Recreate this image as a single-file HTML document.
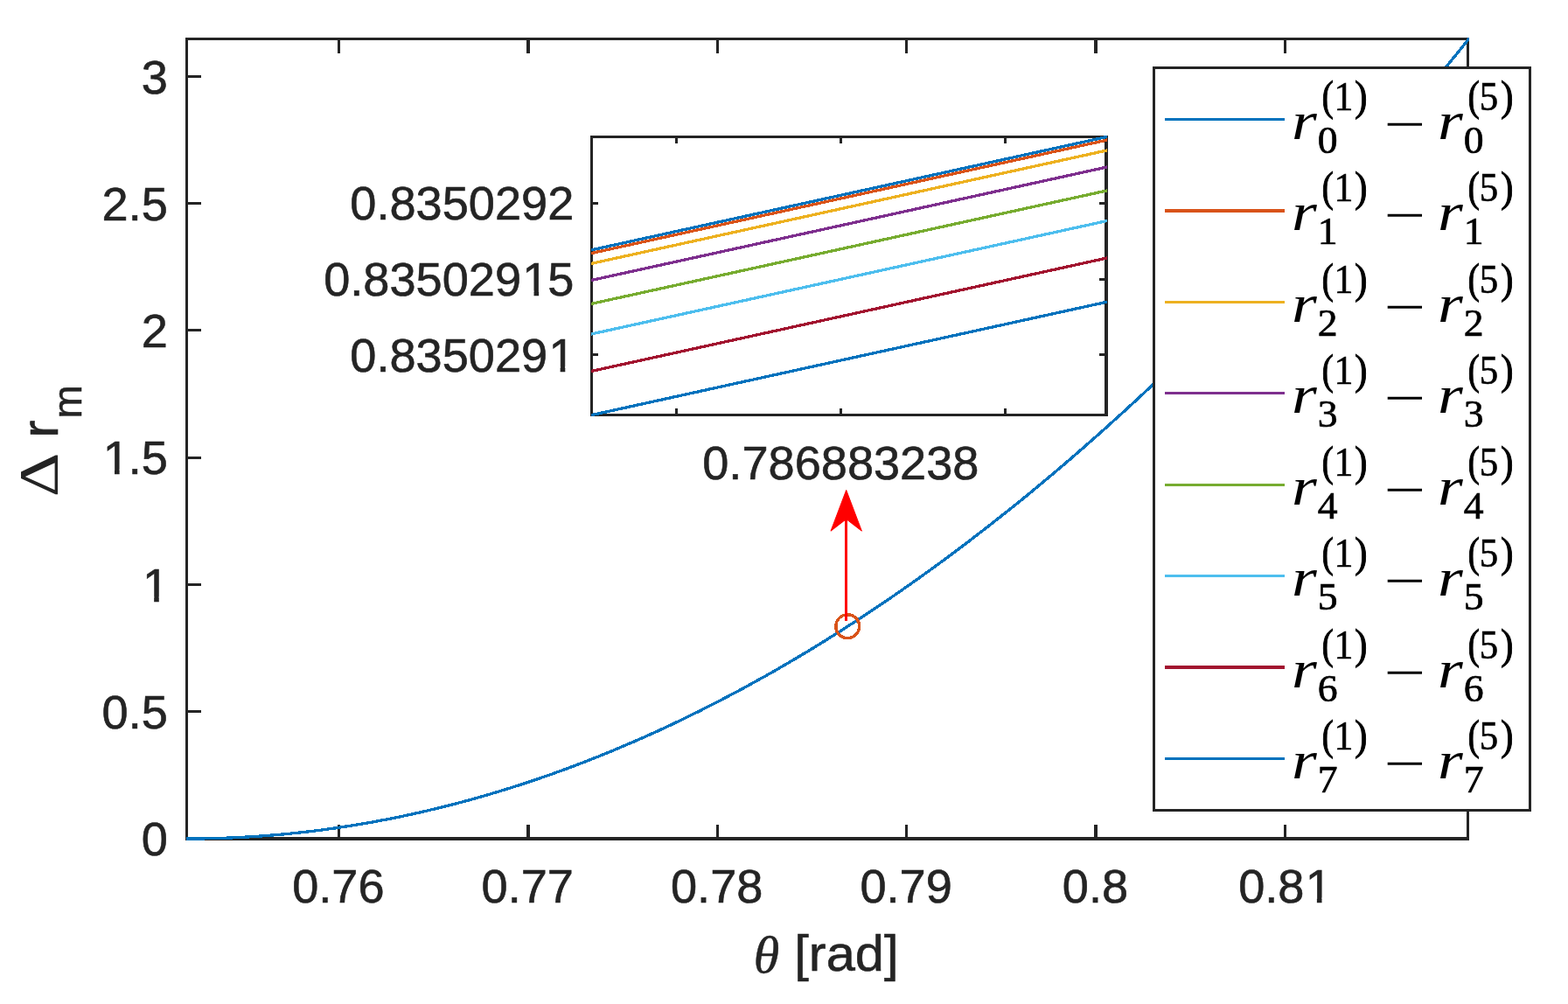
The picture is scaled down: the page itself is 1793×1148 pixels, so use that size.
<!DOCTYPE html>
<html lang="en">
<head>
<meta charset="utf-8">
<title>Delta r_m versus theta</title>
<style>
html,body{margin:0;padding:0;background:#ffffff;}
body{width:1793px;height:1148px;overflow:hidden;}
svg{display:block;}
</style>
</head>
<body>
<svg width="1793" height="1148" viewBox="0 0 1793 1148" role="img" aria-label="Plot of Delta r_m versus theta [rad] with zoomed inset and legend">
<rect x="0" y="0" width="1793" height="1148" fill="#ffffff"/>
<g shape-rendering="crispEdges">
<rect x="212" y="43" width="3" height="918" fill="#242424"/>
<rect x="1677" y="43" width="3" height="918" fill="#242424"/>
<rect x="212" y="43" width="1468" height="3" fill="#242424"/>
<rect x="212" y="957" width="1468" height="4" fill="#242424"/>
<rect x="386" y="943" width="3" height="14" fill="#242424"/>
<rect x="386" y="46" width="3" height="15" fill="#242424"/>
<rect x="602" y="943" width="4" height="14" fill="#242424"/>
<rect x="602" y="46" width="4" height="15" fill="#242424"/>
<rect x="819" y="943" width="3" height="14" fill="#242424"/>
<rect x="819" y="46" width="3" height="15" fill="#242424"/>
<rect x="1035" y="943" width="3" height="14" fill="#242424"/>
<rect x="1035" y="46" width="3" height="15" fill="#242424"/>
<rect x="1251" y="943" width="4" height="14" fill="#242424"/>
<rect x="1251" y="46" width="4" height="15" fill="#242424"/>
<rect x="1468" y="943" width="3" height="14" fill="#242424"/>
<rect x="1468" y="46" width="3" height="15" fill="#242424"/>
<rect x="215" y="812" width="15" height="3" fill="#242424"/>
<rect x="1662" y="812" width="15" height="3" fill="#242424"/>
<rect x="215" y="667" width="15" height="3" fill="#242424"/>
<rect x="1662" y="667" width="15" height="3" fill="#242424"/>
<rect x="215" y="522" width="15" height="3" fill="#242424"/>
<rect x="1662" y="522" width="15" height="3" fill="#242424"/>
<rect x="215" y="376" width="15" height="3" fill="#242424"/>
<rect x="1662" y="376" width="15" height="3" fill="#242424"/>
<rect x="215" y="231" width="15" height="3" fill="#242424"/>
<rect x="1662" y="231" width="15" height="3" fill="#242424"/>
<rect x="215" y="86" width="15" height="3" fill="#242424"/>
<rect x="1662" y="86" width="15" height="3" fill="#242424"/>
</g>
<clipPath id="mc"><rect x="213" y="43" width="1467" height="918"/></clipPath>
<polyline clip-path="url(#mc)" points="208.5,959.0 214.5,959.0 220.6,959.0 226.7,958.9 232.8,958.9 238.9,958.7 245.0,958.6 251.1,958.4 257.2,958.2 263.3,958.0 269.4,957.7 275.5,957.4 281.6,957.1 287.8,956.7 293.9,956.3 300.0,955.9 306.1,955.4 312.2,954.9 318.3,954.4 324.4,953.9 330.5,953.3 336.6,952.6 342.7,952.0 348.8,951.3 354.9,950.6 361.0,949.9 367.1,949.1 373.2,948.3 379.3,947.4 385.4,946.6 391.5,945.6 397.6,944.7 403.7,943.7 409.8,942.7 415.9,941.7 422.0,940.6 428.1,939.6 434.2,938.4 440.4,937.3 446.5,936.1 452.6,934.9 458.7,933.6 464.8,932.3 470.9,931.0 477.0,929.6 483.1,928.3 489.2,926.8 495.3,925.4 501.4,923.9 507.5,922.4 513.6,920.9 519.7,919.3 525.8,917.7 531.9,916.1 538.0,914.4 544.1,912.7 550.2,911.0 556.3,909.2 562.4,907.4 568.5,905.6 574.6,903.7 580.8,901.8 586.9,899.9 593.0,898.0 599.1,896.0 605.2,894.0 611.3,891.9 617.4,889.8 623.5,887.7 629.6,885.6 635.7,883.4 641.8,881.2 647.9,879.0 654.0,876.7 660.1,874.4 666.2,872.1 672.3,869.7 678.4,867.3 684.5,864.9 690.6,862.4 696.7,859.9 702.8,857.4 708.9,854.8 715.0,852.2 721.1,849.6 727.2,847.0 733.4,844.3 739.5,841.6 745.6,838.8 751.7,836.1 757.8,833.2 763.9,830.4 770.0,827.5 776.1,824.6 782.2,821.7 788.3,818.7 794.4,815.7 800.5,812.7 806.6,809.6 812.7,806.5 818.8,803.4 824.9,800.2 831.0,797.0 837.1,793.8 843.2,790.6 849.3,787.3 855.4,784.0 861.5,780.6 867.6,777.2 873.8,773.8 879.9,770.4 886.0,766.9 892.1,763.4 898.2,759.8 904.3,756.3 910.4,752.7 916.5,749.0 922.6,745.4 928.7,741.7 934.8,737.9 940.9,734.2 947.0,730.4 953.1,726.5 959.2,722.7 965.3,718.8 971.4,714.9 977.5,710.9 983.6,706.9 989.7,702.9 995.8,698.9 1001.9,694.8 1008.0,690.7 1014.1,686.5 1020.2,682.4 1026.4,678.2 1032.5,673.9 1038.6,669.6 1044.7,665.3 1050.8,661.0 1056.9,656.6 1063.0,652.2 1069.1,647.8 1075.2,643.4 1081.3,638.9 1087.4,634.3 1093.5,629.8 1099.6,625.2 1105.7,620.6 1111.8,615.9 1117.9,611.2 1124.0,606.5 1130.1,601.8 1136.2,597.0 1142.3,592.2 1148.4,587.3 1154.5,582.5 1160.6,577.6 1166.8,572.6 1172.9,567.7 1179.0,562.7 1185.1,557.6 1191.2,552.6 1197.3,547.5 1203.4,542.3 1209.5,537.2 1215.6,532.0 1221.7,526.8 1227.8,521.5 1233.9,516.2 1240.0,510.9 1246.1,505.5 1252.2,500.2 1258.3,494.7 1264.4,489.3 1270.5,483.8 1276.6,478.3 1282.7,472.8 1288.8,467.2 1294.9,461.6 1301.0,456.0 1307.1,450.3 1313.2,444.6 1319.4,438.9 1325.5,433.1 1331.6,427.3 1337.7,421.5 1343.8,415.6 1349.9,409.7 1356.0,403.8 1362.1,397.9 1368.2,391.9 1374.3,385.8 1380.4,379.8 1386.5,373.7 1392.6,367.6 1398.7,361.5 1404.8,355.3 1410.9,349.1 1417.0,342.8 1423.1,336.6 1429.2,330.3 1435.3,323.9 1441.4,317.6 1447.5,311.2 1453.6,304.7 1459.8,298.3 1465.9,291.8 1472.0,285.3 1478.1,278.7 1484.2,272.1 1490.3,265.5 1496.4,258.8 1502.5,252.2 1508.6,245.4 1514.7,238.7 1520.8,231.9 1526.9,225.1 1533.0,218.3 1539.1,211.4 1545.2,204.5 1551.3,197.5 1557.4,190.6 1563.5,183.6 1569.6,176.5 1575.7,169.5 1581.8,162.4 1587.9,155.2 1594.0,148.1 1600.1,140.9 1606.2,133.7 1612.4,126.4 1618.5,119.1 1624.6,111.8 1630.7,104.5 1636.8,97.1 1642.9,89.7 1649.0,82.2 1655.1,74.7 1661.2,67.2 1667.3,59.7 1673.4,52.1 1679.5,44.5 1685.6,36.9" fill="none" stroke="#0072BD" stroke-width="3.3" stroke-linejoin="round" shape-rendering="crispEdges"/>
<g font-family="'Liberation Sans', Arial, Helvetica, sans-serif" font-size="54.17" fill="#242424" stroke="#242424" stroke-width="0.6">
<text x="334.19" y="1032.00">0.76</text>
<text x="550.59" y="1032.00">0.77</text>
<text x="766.99" y="1032.00">0.78</text>
<text x="983.39" y="1032.00">0.79</text>
<text x="1214.85" y="1032.00">0.8</text>
<clipPath id="k1"><path clip-rule="evenodd" d="M1396.2 972.0H1541.6V1052.0H1396.2ZM1495.19 1026.40H1505.89V1033.50H1495.19ZM1511.49 1026.40H1521.69V1033.50H1511.49Z"/></clipPath>
<text x="1416.19" y="1032.00" clip-path="url(#k1)">0.8<tspan dx="1.2">1</tspan></text>
<text x="161.77" y="978.00">0</text>
<text x="116.60" y="832.80">0.5</text>
<clipPath id="k2"><path clip-rule="evenodd" d="M141.8 627.6H211.9V707.6H141.8ZM165.47 682.00H176.17V689.10H165.47ZM181.77 682.00H191.97V689.10H181.77Z"/></clipPath>
<text x="161.77" y="687.60" clip-path="url(#k2)"><tspan dx="1.2">1</tspan></text>
<clipPath id="k3"><path clip-rule="evenodd" d="M96.6 482.4H211.9V562.4H96.6ZM120.30 536.80H131.00V543.90H120.30ZM136.60 536.80H146.80V543.90H136.60Z"/></clipPath>
<text x="116.60" y="542.40" clip-path="url(#k3)"><tspan dx="1.2">1</tspan><tspan dx="-1.2">.5</tspan></text>
<text x="161.77" y="397.20">2</text>
<text x="116.60" y="252.00">2.5</text>
<text x="161.77" y="106.80">3</text>
</g>
<g fill="#242424" stroke="#242424" stroke-width="0.6">
<text x="861.7" y="1111.8" font-family="'Liberation Serif', 'Times New Roman', Times, serif" font-style="italic" font-size="60" stroke-width="0.5">θ</text>
<text transform="translate(908.3,1110.0) scale(1,0.965)" font-family="'Liberation Sans', Arial, Helvetica, sans-serif" font-size="59.6">[rad]</text>
<g transform="translate(65.9,566.0) rotate(-90)">
<text transform="matrix(0.7877 0 0 0.6394 -2.15 0.30)" font-family="'Liberation Serif', 'Times New Roman', Times, serif" font-size="100" stroke="none">Δ</text>
<text x="65.6" y="0" font-family="'Liberation Sans', Arial, Helvetica, sans-serif" font-size="59.6">r</text>
<text x="87.6" y="27.0" font-family="'Liberation Sans', Arial, Helvetica, sans-serif" font-size="46">m</text>
</g>
</g>
<circle cx="969.2" cy="716.2" r="13.4" fill="none" stroke="#D95319" stroke-width="3.4" shape-rendering="crispEdges"/>
<rect x="966" y="590" width="3" height="120" fill="#FF0000" shape-rendering="crispEdges"/>
<path d="M967.7 560.4 L985.4 607.2 L967.7 593.6 L950.0 607.2 Z" fill="#FF0000" stroke="#FF0000" stroke-width="1" stroke-linejoin="round"/>
<rect x="675" y="155" width="592" height="321" fill="#ffffff"/>
<g shape-rendering="crispEdges">
<rect x="675" y="155" width="3" height="321" fill="#242424"/>
<rect x="1263" y="155" width="4" height="321" fill="#242424"/>
<rect x="675" y="155" width="592" height="3" fill="#242424"/>
<rect x="675" y="473" width="592" height="3" fill="#242424"/>
<rect x="772" y="467" width="3" height="6" fill="#242424"/>
<rect x="772" y="158" width="3" height="6" fill="#242424"/>
<rect x="960" y="467" width="3" height="6" fill="#242424"/>
<rect x="960" y="158" width="3" height="6" fill="#242424"/>
<rect x="1148" y="467" width="3" height="6" fill="#242424"/>
<rect x="1148" y="158" width="3" height="6" fill="#242424"/>
<rect x="678" y="231" width="6" height="3" fill="#242424"/>
<rect x="1257" y="231" width="6" height="3" fill="#242424"/>
<rect x="678" y="318" width="6" height="3" fill="#242424"/>
<rect x="1257" y="318" width="6" height="3" fill="#242424"/>
<rect x="678" y="404" width="6" height="3" fill="#242424"/>
<rect x="1257" y="404" width="6" height="3" fill="#242424"/>
</g>
<clipPath id="ic"><rect x="676" y="155" width="590" height="321"/></clipPath>
<g clip-path="url(#ic)" stroke-width="3.3" fill="none" shape-rendering="crispEdges">
<line x1="673.5" y1="286.46" x2="1268.0" y2="155.94" stroke="#0072BD"/>
<line x1="673.5" y1="290.16" x2="1268.0" y2="159.64" stroke="#D95319"/>
<line x1="673.5" y1="301.96" x2="1268.0" y2="171.44" stroke="#EDB120"/>
<line x1="673.5" y1="321.06" x2="1268.0" y2="190.54" stroke="#7E2F8E"/>
<line x1="673.5" y1="347.96" x2="1268.0" y2="217.44" stroke="#77AC30"/>
<line x1="673.5" y1="382.56" x2="1268.0" y2="252.04" stroke="#4DBEEE"/>
<line x1="673.5" y1="425.06" x2="1268.0" y2="294.54" stroke="#A2142F"/>
<line x1="673.5" y1="475.26" x2="1268.0" y2="344.74" stroke="#0072BD"/>
</g>
<g font-family="'Liberation Sans', Arial, Helvetica, sans-serif" font-size="54.17" fill="#242424" stroke="#242424" stroke-width="0.6">
<text x="400.34" y="250.70">0.8350292</text>
<clipPath id="k4"><path clip-rule="evenodd" d="M350.2 278.0H676.4V358.0H350.2ZM599.85 332.40H610.55V339.50H599.85ZM616.15 332.40H626.35V339.50H616.15Z"/></clipPath>
<text x="370.21" y="338.00" clip-path="url(#k4)">0.835029<tspan dx="1.2">1</tspan><tspan dx="-1.2">5</tspan></text>
<clipPath id="k5"><path clip-rule="evenodd" d="M380.3 364.6H676.4V444.6H380.3ZM629.97 419.00H640.67V426.10H629.97ZM646.27 419.00H656.47V426.10H646.27Z"/></clipPath>
<text x="400.34" y="424.60" clip-path="url(#k5)">0.835029<tspan dx="1.2">1</tspan></text>
<text x="803.24" y="547.60">0.786883238</text>
</g>
<rect x="1318" y="76" width="433" height="852" fill="#242424" shape-rendering="crispEdges"/>
<rect x="1321" y="79" width="427" height="846" fill="#ffffff" shape-rendering="crispEdges"/>
<g font-family="'Liberation Serif', 'Times New Roman', Times, serif" fill="#000000">
<rect x="1332" y="135" width="137" height="3" fill="#0072BD" shape-rendering="crispEdges"/>
<g>
<text transform="matrix(0.7401 0 0 0.6154 1477.05 158.80)" font-size="100" font-style="italic">r</text>
<text transform="matrix(0.4568 0 0 0.4478 1506.63 175.00)" font-size="100" stroke="#000" stroke-width="1.5">0</text>
<text transform="matrix(0.4037 0 0 0.4793 1511.54 126.03)" font-size="100" stroke="#000" stroke-width="2.0">(</text>
<text transform="matrix(0.4381 0 0 0.4622 1525.40 125.65)" font-size="100" stroke="#000" stroke-width="1.5">1</text>
<text transform="matrix(0.4379 0 0 0.4793 1549.01 126.03)" font-size="100" stroke="#000" stroke-width="2.0">)</text>
<text transform="matrix(0.8452 0 0 0.6000 1582.57 162.05)" font-size="100">−</text>
<text transform="matrix(0.7401 0 0 0.6154 1644.05 158.80)" font-size="100" font-style="italic">r</text>
<text transform="matrix(0.4568 0 0 0.4478 1673.63 175.00)" font-size="100" stroke="#000" stroke-width="1.5">0</text>
<text transform="matrix(0.4037 0 0 0.4793 1678.54 126.03)" font-size="100" stroke="#000" stroke-width="2.0">(</text>
<text transform="matrix(0.4274 0 0 0.4676 1691.76 126.08)" font-size="100" stroke="#000" stroke-width="1.5">5</text>
<text transform="matrix(0.4379 0 0 0.4793 1716.01 126.03)" font-size="100" stroke="#000" stroke-width="2.0">)</text>
</g>
<rect x="1332" y="239" width="137" height="4" fill="#D95319" shape-rendering="crispEdges"/>
<g>
<text transform="matrix(0.7401 0 0 0.6154 1477.05 262.80)" font-size="100" font-style="italic">r</text>
<text transform="matrix(0.4568 0 0 0.4478 1506.63 279.00)" font-size="100" stroke="#000" stroke-width="1.5">1</text>
<text transform="matrix(0.4037 0 0 0.4793 1511.54 230.03)" font-size="100" stroke="#000" stroke-width="2.0">(</text>
<text transform="matrix(0.4381 0 0 0.4622 1525.40 229.65)" font-size="100" stroke="#000" stroke-width="1.5">1</text>
<text transform="matrix(0.4379 0 0 0.4793 1549.01 230.03)" font-size="100" stroke="#000" stroke-width="2.0">)</text>
<text transform="matrix(0.8452 0 0 0.6000 1582.57 266.05)" font-size="100">−</text>
<text transform="matrix(0.7401 0 0 0.6154 1644.05 262.80)" font-size="100" font-style="italic">r</text>
<text transform="matrix(0.4568 0 0 0.4478 1673.63 279.00)" font-size="100" stroke="#000" stroke-width="1.5">1</text>
<text transform="matrix(0.4037 0 0 0.4793 1678.54 230.03)" font-size="100" stroke="#000" stroke-width="2.0">(</text>
<text transform="matrix(0.4274 0 0 0.4676 1691.76 230.08)" font-size="100" stroke="#000" stroke-width="1.5">5</text>
<text transform="matrix(0.4379 0 0 0.4793 1716.01 230.03)" font-size="100" stroke="#000" stroke-width="2.0">)</text>
</g>
<rect x="1332" y="344" width="137" height="3" fill="#EDB120" shape-rendering="crispEdges"/>
<g>
<text transform="matrix(0.7401 0 0 0.6154 1477.05 367.80)" font-size="100" font-style="italic">r</text>
<text transform="matrix(0.4568 0 0 0.4478 1506.63 384.00)" font-size="100" stroke="#000" stroke-width="1.5">2</text>
<text transform="matrix(0.4037 0 0 0.4793 1511.54 335.03)" font-size="100" stroke="#000" stroke-width="2.0">(</text>
<text transform="matrix(0.4381 0 0 0.4622 1525.40 334.65)" font-size="100" stroke="#000" stroke-width="1.5">1</text>
<text transform="matrix(0.4379 0 0 0.4793 1549.01 335.03)" font-size="100" stroke="#000" stroke-width="2.0">)</text>
<text transform="matrix(0.8452 0 0 0.6000 1582.57 371.05)" font-size="100">−</text>
<text transform="matrix(0.7401 0 0 0.6154 1644.05 367.80)" font-size="100" font-style="italic">r</text>
<text transform="matrix(0.4568 0 0 0.4478 1673.63 384.00)" font-size="100" stroke="#000" stroke-width="1.5">2</text>
<text transform="matrix(0.4037 0 0 0.4793 1678.54 335.03)" font-size="100" stroke="#000" stroke-width="2.0">(</text>
<text transform="matrix(0.4274 0 0 0.4676 1691.76 335.08)" font-size="100" stroke="#000" stroke-width="1.5">5</text>
<text transform="matrix(0.4379 0 0 0.4793 1716.01 335.03)" font-size="100" stroke="#000" stroke-width="2.0">)</text>
</g>
<rect x="1332" y="448" width="137" height="3" fill="#7E2F8E" shape-rendering="crispEdges"/>
<g>
<text transform="matrix(0.7401 0 0 0.6154 1477.05 471.80)" font-size="100" font-style="italic">r</text>
<text transform="matrix(0.4568 0 0 0.4478 1506.63 488.00)" font-size="100" stroke="#000" stroke-width="1.5">3</text>
<text transform="matrix(0.4037 0 0 0.4793 1511.54 439.03)" font-size="100" stroke="#000" stroke-width="2.0">(</text>
<text transform="matrix(0.4381 0 0 0.4622 1525.40 438.65)" font-size="100" stroke="#000" stroke-width="1.5">1</text>
<text transform="matrix(0.4379 0 0 0.4793 1549.01 439.03)" font-size="100" stroke="#000" stroke-width="2.0">)</text>
<text transform="matrix(0.8452 0 0 0.6000 1582.57 475.05)" font-size="100">−</text>
<text transform="matrix(0.7401 0 0 0.6154 1644.05 471.80)" font-size="100" font-style="italic">r</text>
<text transform="matrix(0.4568 0 0 0.4478 1673.63 488.00)" font-size="100" stroke="#000" stroke-width="1.5">3</text>
<text transform="matrix(0.4037 0 0 0.4793 1678.54 439.03)" font-size="100" stroke="#000" stroke-width="2.0">(</text>
<text transform="matrix(0.4274 0 0 0.4676 1691.76 439.08)" font-size="100" stroke="#000" stroke-width="1.5">5</text>
<text transform="matrix(0.4379 0 0 0.4793 1716.01 439.03)" font-size="100" stroke="#000" stroke-width="2.0">)</text>
</g>
<rect x="1332" y="553" width="137" height="3" fill="#77AC30" shape-rendering="crispEdges"/>
<g>
<text transform="matrix(0.7401 0 0 0.6154 1477.05 576.80)" font-size="100" font-style="italic">r</text>
<text transform="matrix(0.4568 0 0 0.4478 1506.63 593.00)" font-size="100" stroke="#000" stroke-width="1.5">4</text>
<text transform="matrix(0.4037 0 0 0.4793 1511.54 544.03)" font-size="100" stroke="#000" stroke-width="2.0">(</text>
<text transform="matrix(0.4381 0 0 0.4622 1525.40 543.65)" font-size="100" stroke="#000" stroke-width="1.5">1</text>
<text transform="matrix(0.4379 0 0 0.4793 1549.01 544.03)" font-size="100" stroke="#000" stroke-width="2.0">)</text>
<text transform="matrix(0.8452 0 0 0.6000 1582.57 580.05)" font-size="100">−</text>
<text transform="matrix(0.7401 0 0 0.6154 1644.05 576.80)" font-size="100" font-style="italic">r</text>
<text transform="matrix(0.4568 0 0 0.4478 1673.63 593.00)" font-size="100" stroke="#000" stroke-width="1.5">4</text>
<text transform="matrix(0.4037 0 0 0.4793 1678.54 544.03)" font-size="100" stroke="#000" stroke-width="2.0">(</text>
<text transform="matrix(0.4274 0 0 0.4676 1691.76 544.08)" font-size="100" stroke="#000" stroke-width="1.5">5</text>
<text transform="matrix(0.4379 0 0 0.4793 1716.01 544.03)" font-size="100" stroke="#000" stroke-width="2.0">)</text>
</g>
<rect x="1332" y="657" width="137" height="3" fill="#4DBEEE" shape-rendering="crispEdges"/>
<g>
<text transform="matrix(0.7401 0 0 0.6154 1477.05 680.80)" font-size="100" font-style="italic">r</text>
<text transform="matrix(0.4568 0 0 0.4478 1506.63 697.00)" font-size="100" stroke="#000" stroke-width="1.5">5</text>
<text transform="matrix(0.4037 0 0 0.4793 1511.54 648.03)" font-size="100" stroke="#000" stroke-width="2.0">(</text>
<text transform="matrix(0.4381 0 0 0.4622 1525.40 647.65)" font-size="100" stroke="#000" stroke-width="1.5">1</text>
<text transform="matrix(0.4379 0 0 0.4793 1549.01 648.03)" font-size="100" stroke="#000" stroke-width="2.0">)</text>
<text transform="matrix(0.8452 0 0 0.6000 1582.57 684.05)" font-size="100">−</text>
<text transform="matrix(0.7401 0 0 0.6154 1644.05 680.80)" font-size="100" font-style="italic">r</text>
<text transform="matrix(0.4568 0 0 0.4478 1673.63 697.00)" font-size="100" stroke="#000" stroke-width="1.5">5</text>
<text transform="matrix(0.4037 0 0 0.4793 1678.54 648.03)" font-size="100" stroke="#000" stroke-width="2.0">(</text>
<text transform="matrix(0.4274 0 0 0.4676 1691.76 648.08)" font-size="100" stroke="#000" stroke-width="1.5">5</text>
<text transform="matrix(0.4379 0 0 0.4793 1716.01 648.03)" font-size="100" stroke="#000" stroke-width="2.0">)</text>
</g>
<rect x="1332" y="761" width="137" height="4" fill="#A2142F" shape-rendering="crispEdges"/>
<g>
<text transform="matrix(0.7401 0 0 0.6154 1477.05 785.80)" font-size="100" font-style="italic">r</text>
<text transform="matrix(0.4568 0 0 0.4478 1506.63 802.00)" font-size="100" stroke="#000" stroke-width="1.5">6</text>
<text transform="matrix(0.4037 0 0 0.4793 1511.54 753.03)" font-size="100" stroke="#000" stroke-width="2.0">(</text>
<text transform="matrix(0.4381 0 0 0.4622 1525.40 752.65)" font-size="100" stroke="#000" stroke-width="1.5">1</text>
<text transform="matrix(0.4379 0 0 0.4793 1549.01 753.03)" font-size="100" stroke="#000" stroke-width="2.0">)</text>
<text transform="matrix(0.8452 0 0 0.6000 1582.57 789.05)" font-size="100">−</text>
<text transform="matrix(0.7401 0 0 0.6154 1644.05 785.80)" font-size="100" font-style="italic">r</text>
<text transform="matrix(0.4568 0 0 0.4478 1673.63 802.00)" font-size="100" stroke="#000" stroke-width="1.5">6</text>
<text transform="matrix(0.4037 0 0 0.4793 1678.54 753.03)" font-size="100" stroke="#000" stroke-width="2.0">(</text>
<text transform="matrix(0.4274 0 0 0.4676 1691.76 753.08)" font-size="100" stroke="#000" stroke-width="1.5">5</text>
<text transform="matrix(0.4379 0 0 0.4793 1716.01 753.03)" font-size="100" stroke="#000" stroke-width="2.0">)</text>
</g>
<rect x="1332" y="866" width="137" height="3" fill="#0072BD" shape-rendering="crispEdges"/>
<g>
<text transform="matrix(0.7401 0 0 0.6154 1477.05 889.80)" font-size="100" font-style="italic">r</text>
<text transform="matrix(0.4568 0 0 0.4478 1506.63 906.00)" font-size="100" stroke="#000" stroke-width="1.5">7</text>
<text transform="matrix(0.4037 0 0 0.4793 1511.54 857.03)" font-size="100" stroke="#000" stroke-width="2.0">(</text>
<text transform="matrix(0.4381 0 0 0.4622 1525.40 856.65)" font-size="100" stroke="#000" stroke-width="1.5">1</text>
<text transform="matrix(0.4379 0 0 0.4793 1549.01 857.03)" font-size="100" stroke="#000" stroke-width="2.0">)</text>
<text transform="matrix(0.8452 0 0 0.6000 1582.57 893.05)" font-size="100">−</text>
<text transform="matrix(0.7401 0 0 0.6154 1644.05 889.80)" font-size="100" font-style="italic">r</text>
<text transform="matrix(0.4568 0 0 0.4478 1673.63 906.00)" font-size="100" stroke="#000" stroke-width="1.5">7</text>
<text transform="matrix(0.4037 0 0 0.4793 1678.54 857.03)" font-size="100" stroke="#000" stroke-width="2.0">(</text>
<text transform="matrix(0.4274 0 0 0.4676 1691.76 857.08)" font-size="100" stroke="#000" stroke-width="1.5">5</text>
<text transform="matrix(0.4379 0 0 0.4793 1716.01 857.03)" font-size="100" stroke="#000" stroke-width="2.0">)</text>
</g>
</g>
</svg>
</body>
</html>
